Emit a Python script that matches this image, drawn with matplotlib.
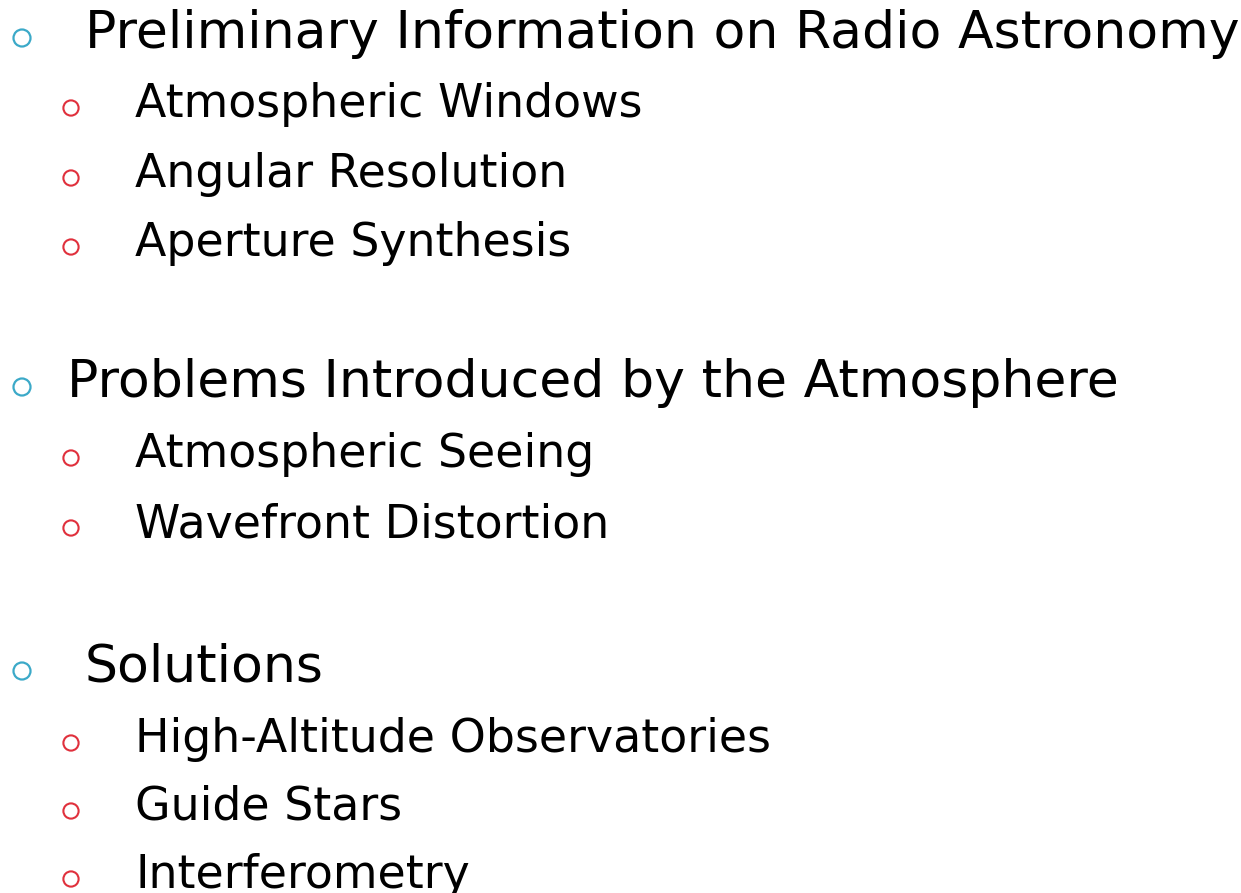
import matplotlib.pyplot as plt

# outline items of the slide
items = [
    'Preliminary Information on Radio Astronomy',
    'Atmospheric Windows',
    'Angular Resolution',
    'Aperture Synthesis',
    'Problems Introduced by the Atmosphere',
    'Atmospheric Seeing',
    'Wavefront Distortion',
    'Solutions',
    'High-Altitude Observatories',
    'Guide Stars',
    'Interferometry',
]
levels = [1, 2, 2, 2, 1, 2, 2, 1, 2, 2, 2]

# layout in pixels (baseline of each line, left edge of text)
baselines = [48, 117, 187, 256, 397, 467, 537, 681, 752, 820, 888]
text_x = [85, 135, 135, 135, 67, 135, 135, 85, 135, 135, 135]

fig = plt.figure(figsize=(12.41, 8.93), dpi=100)
ax = fig.add_axes([0, 0, 1, 1])
ax.set_xlim(0, 1241)
ax.set_ylim(893, 0)
ax.axis('off')

for txt, lvl, y, x in zip(items, levels, baselines, text_x):
    if lvl == 1:
        ax.scatter(22, y - 10, s=150, facecolors='none', edgecolors='#3BA9C8', linewidths=1.6)
        ax.text(x, y, txt, fontsize=37.5, va='baseline', ha='left', color='black')
    else:
        ax.scatter(71, y - 9, s=120, facecolors='none', edgecolors='#E0303C', linewidths=1.5)
        ax.text(x, y, txt, fontsize=33, va='baseline', ha='left', color='black')

fig.savefig('out.png')
